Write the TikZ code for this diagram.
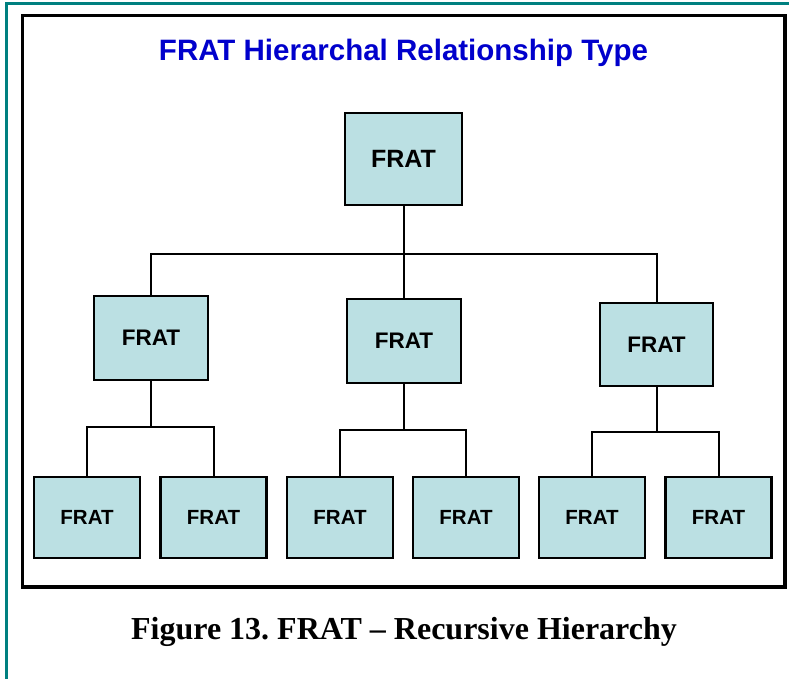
\documentclass[tikz,border=0pt]{standalone}
\usepackage{fontspec}
\setmainfont{Liberation Serif}
\setsansfont{Liberation Sans}
\frenchspacing
\definecolor{frametea}{RGB}{0,128,128}
\definecolor{boxfill}{RGB}{187,224,227}
\definecolor{titleblue}{RGB}{0,0,204}
\tikzset{
  frat/.style={draw=black, line width=2.4pt, fill=boxfill, inner sep=0pt,
    font=\sffamily\bfseries, text=black},
  toplevel/.style={frat, minimum width=117pt, minimum height=92pt, font=\sffamily\bfseries\fontsize{25}{28}\selectfont},
  midlevel/.style={frat, minimum width=114pt, minimum height=84pt, font=\sffamily\bfseries\fontsize{22.5}{26}\selectfont},
  leaflevel/.style={frat, minimum width=106pt, minimum height=81pt, font=\sffamily\bfseries\fontsize{20.5}{24}\selectfont},
  link/.style={draw=black, line width=2pt}
}
\begin{document}
\begin{tikzpicture}[x=1pt,y=-1pt]
\useasboundingbox (0,0) rectangle (789,679);
\fill[white] (0,0) rectangle (789,679);
% outer teal page frame (top and left edges)
\draw[frametea, line width=3pt] (6.5,700) -- (6.5,3.5) -- (800,3.5);
% black panel
\draw[black, line width=3.5pt] (22.5,15.5) rectangle (785,587);
% title
\node[font=\sffamily\bfseries\fontsize{29.5}{34}\selectfont, text=titleblue] (title) at (403.5,52.5) {FRAT Hierarchal Relationship Type};
% boxes
\node[toplevel] (root) at (403.5,159) {FRAT};
\node[midlevel] (ma) at (151,338) {FRAT};
\node[midlevel] (mb) at (404,341) {FRAT};
\node[midlevel, minimum width=113pt, minimum height=83pt] (mc) at (656.5,344.5) {FRAT};
\node[leaflevel] (la) at (87,517.5) {FRAT};
\node[leaflevel] (lb) at (213.5,517.5) {FRAT};
\node[leaflevel] (lc) at (340,517.5) {FRAT};
\node[leaflevel] (ld) at (466,517.5) {FRAT};
\node[leaflevel] (le) at (592,517.5) {FRAT};
\node[leaflevel] (lf) at (718.5,517.5) {FRAT};
% junction points
\coordinate (j0) at (403.5,254);
\coordinate (ja) at (151,427);
\coordinate (jb) at (404,430);
\coordinate (jc) at (656.5,432);
% connectors
\draw[link] (root.south) -- (j0);
\draw[link] (j0) -| (ma.north);
\draw[link] (j0) -| (mc.north);
\draw[link] (j0) -- (j0 |- mb.north);
\draw[link] (ma.south) -- (ja);
\draw[link] (ja) -| (la.north);
\draw[link] (ja) -| (lb.north);
\draw[link] (mb.south) -- (jb);
\draw[link] (jb) -| (lc.north);
\draw[link] (jb) -| (ld.north);
\draw[link] (mc.south) -- (jc);
\draw[link] (jc) -| (le.north);
\draw[link] (jc) -| (lf.north);
% caption
\node[font=\rmfamily\bfseries\fontsize{32}{36}\selectfont] (caption) at (404,632) {Figure 13. FRAT – Recursive Hierarchy};
\end{tikzpicture}
\end{document}
